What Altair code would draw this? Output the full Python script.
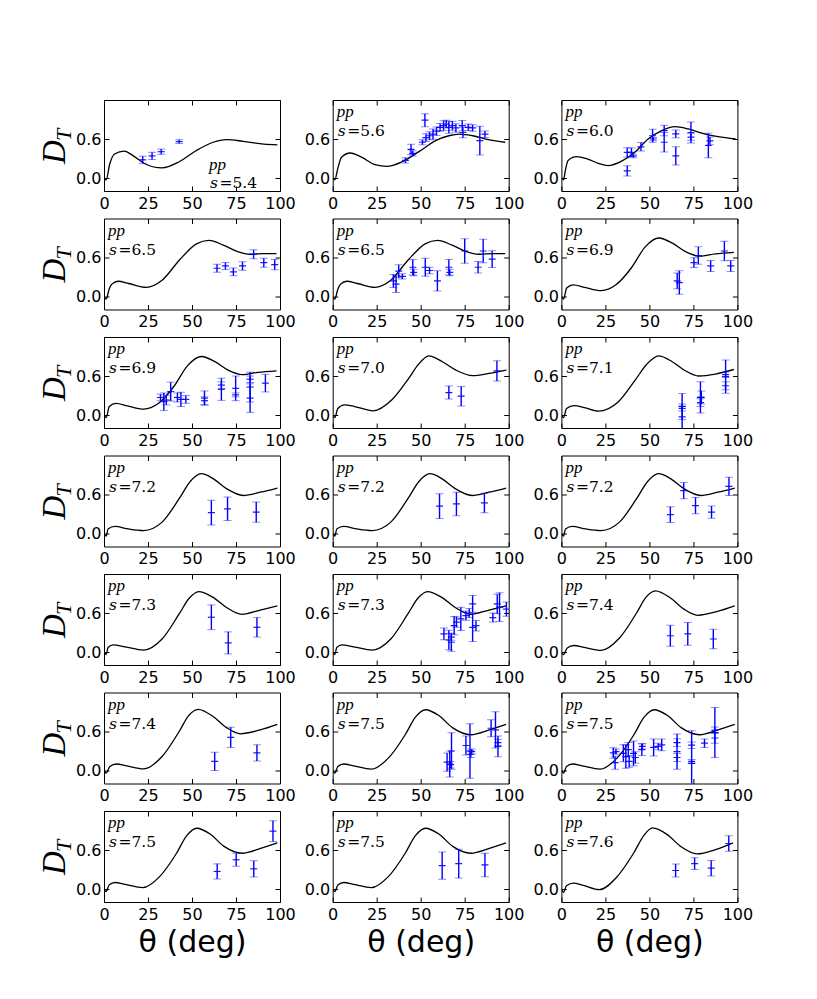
import altair as alt
import pandas as pd

# ---------------- model curves (theta in deg, D_T) ----------------
c54_theta = [0.3, 1.2, 3.3, 6, 11.5, 16.7, 23.5, 33, 42.7, 52.3, 62, 69.6, 79, 90.8, 98.5]
c54_dt = [0.0, -0.03, 0.22, 0.37, 0.415, 0.34, 0.215, 0.155, 0.25, 0.42, 0.55, 0.59, 0.565, 0.52, 0.51]

c56_theta = [0.3, 1.2, 3, 5, 10, 16.4, 24, 30.8, 39.4, 49, 58.5, 66, 72, 79.5, 89, 98]
c56_dt = [0.0, -0.03, 0.16, 0.32, 0.385, 0.32, 0.205, 0.18, 0.25, 0.405, 0.575, 0.65, 0.675, 0.65, 0.585, 0.55]

c60_theta = [0.3, 1.2, 2.2, 3.8, 8.5, 15, 21, 26.5, 34, 41.7, 49.3, 57, 64.5, 72, 79.7, 89, 99]
c60_dt = [0.0, -0.03, 0.11, 0.27, 0.33, 0.29, 0.225, 0.19, 0.255, 0.395, 0.60, 0.73, 0.79, 0.755, 0.69, 0.635, 0.60]

c65_theta = [0.3, 1.2, 3, 4.5, 8, 14, 24, 33, 43, 52.5, 59.7, 67.8, 75.5, 83.2, 90.8, 98]
c65_dt = [-0.01, -0.04, 0.12, 0.19, 0.235, 0.2, 0.14, 0.25, 0.565, 0.81, 0.865, 0.79, 0.695, 0.65, 0.66, 0.66]

c69_theta = [0.3, 1.2, 3, 6.8, 13.3, 22.6, 31, 40, 47.5, 55.5, 63, 70.5, 78.5, 87.5, 98]
c69_dt = [-0.01, -0.04, 0.13, 0.18, 0.14, 0.09, 0.18, 0.45, 0.76, 0.90, 0.82, 0.69, 0.62, 0.655, 0.68]

c70_theta = [0.3, 1.2, 2.9, 6.7, 12.5, 23, 33.5, 43.1, 48.5, 54.6, 62.3, 70, 79.5, 89, 98.7]
c70_dt = [-0.01, -0.04, 0.10, 0.155, 0.13, 0.065, 0.23, 0.56, 0.77, 0.91, 0.82, 0.69, 0.605, 0.64, 0.69]

c71_theta = [0.3, 1.2, 2.9, 7.2, 13, 21, 32.4, 42, 48.5, 55.2, 63, 70.5, 78, 87.6, 98]
c71_dt = [-0.01, -0.04, 0.10, 0.145, 0.115, 0.06, 0.205, 0.54, 0.78, 0.91, 0.82, 0.68, 0.60, 0.63, 0.70]

c72_theta = [0.3, 1.2, 2.3, 6.2, 13.8, 22.5, 33, 42.7, 49, 55.2, 62, 69.6, 79.2, 88.8, 98.5]
c72_dt = [-0.01, -0.04, 0.07, 0.11, 0.07, 0.045, 0.175, 0.535, 0.80, 0.92, 0.845, 0.69, 0.585, 0.635, 0.70]

c73_theta = [0.3, 1.2, 2.3, 5.2, 12, 22.5, 33, 42.7, 48.5, 53.8, 62, 69.6, 78.3, 88.8, 98.5]
c73_dt = [-0.01, -0.04, 0.07, 0.11, 0.08, 0.03, 0.20, 0.585, 0.83, 0.93, 0.84, 0.685, 0.58, 0.645, 0.71]

c74_theta = [0.3, 1.2, 3.3, 7.1, 13, 22.5, 33, 42.7, 48, 53.5, 62, 69.6, 77.5, 88.8, 98.5]
c74_dt = [-0.01, -0.04, 0.06, 0.10, 0.07, 0.025, 0.215, 0.60, 0.84, 0.94, 0.83, 0.66, 0.565, 0.625, 0.71]

c75_theta = [0.3, 1.2, 2.9, 6.3, 12, 22, 31.6, 41.2, 47, 52.7, 60.3, 68, 78.5, 89, 98.5]
c75_dt = [-0.01, -0.04, 0.06, 0.1, 0.07, 0.02, 0.19, 0.55, 0.82, 0.935, 0.845, 0.66, 0.55, 0.625, 0.71]

c76_theta = [0.3, 1.2, 2.9, 6.8, 12, 21.6, 31, 41, 47, 51.8, 60, 68, 77, 88, 97.5]
c76_dt = [-0.01, -0.05, 0.05, 0.09, 0.06, -0.01, 0.17, 0.55, 0.83, 0.94, 0.84, 0.65, 0.54, 0.61, 0.71]

CURVES = {
    "5.4": (c54_theta, c54_dt), "5.6": (c56_theta, c56_dt), "6.0": (c60_theta, c60_dt),
    "6.5": (c65_theta, c65_dt), "6.9": (c69_theta, c69_dt), "7.0": (c70_theta, c70_dt),
    "7.1": (c71_theta, c71_dt), "7.2": (c72_theta, c72_dt), "7.3": (c73_theta, c73_dt),
    "7.4": (c74_theta, c74_dt), "7.5": (c75_theta, c75_dt), "7.6": (c76_theta, c76_dt),
}

# ---------------- measured points (theta, D_T, error) per panel ----------------
p01_theta = [22, 27.3, 32.5, 42.7]
p01_dt = [0.28, 0.34, 0.405, 0.56]
p01_err = [0.055, 0.055, 0.04, 0.03]

p02_theta = [41.3, 44.5, 45.5, 51, 52.4, 53, 55, 57, 59, 61, 63, 64.5, 66, 68, 70, 73.6, 74, 77, 79.5, 83.6, 86.5]
p02_dt = [0.27, 0.44, 0.38, 0.55, 0.89, 0.62, 0.65, 0.675, 0.72, 0.78, 0.805, 0.83, 0.78, 0.805, 0.77, 0.805, 0.70, 0.78, 0.77, 0.575, 0.675]
p02_err = [0.04, 0.08, 0.04, 0.04, 0.10, 0.06, 0.06, 0.08, 0.065, 0.06, 0.075, 0.06, 0.09, 0.07, 0.065, 0.08, 0.08, 0.05, 0.05, 0.22, 0.05]

p03_theta = [37.4, 37.4, 39.8, 40.8, 45.2, 51.8, 52.2, 58.4, 58.4, 65, 65, 73.6, 73.6, 83.5, 84.4]
p03_dt = [0.395, 0.11, 0.395, 0.34, 0.48, 0.65, 0.60, 0.55, 0.73, 0.68, 0.34, 0.70, 0.63, 0.50, 0.57]
p03_err = [0.07, 0.08, 0.065, 0.03, 0.065, 0.10, 0.025, 0.15, 0.08, 0.06, 0.14, 0.16, 0.05, 0.19, 0.06]

p04_theta = [64.2, 69, 73.5, 78.7, 85, 90.8, 97]
p04_dt = [0.435, 0.47, 0.38, 0.47, 0.65, 0.52, 0.49]
p04_err = [0.06, 0.055, 0.06, 0.065, 0.07, 0.07, 0.08]

p05_theta = [34.5, 36, 37.5, 39.6, 45.5, 46, 52.6, 55, 59.5, 66, 66.5, 75, 82.6, 85.5, 90.6]
p05_dt = [0.24, 0.19, 0.39, 0.31, 0.45, 0.37, 0.45, 0.40, 0.24, 0.45, 0.37, 0.70, 0.45, 0.70, 0.575]
p05_err = [0.10, 0.13, 0.10, 0.04, 0.12, 0.05, 0.14, 0.05, 0.155, 0.12, 0.05, 0.19, 0.09, 0.18, 0.13]

p06_theta = [65.8, 67, 75.3, 77.8, 84.8, 92.6, 96.2]
p06_dt = [0.24, 0.215, 0.52, 0.63, 0.47, 0.70, 0.47]
p06_err = [0.12, 0.18, 0.075, 0.135, 0.085, 0.15, 0.085]

p07_theta = [32.1, 34, 35.4, 37.9, 41.7, 43.7, 46.5, 57.1, 57.1, 66.7, 66.7, 74.8, 74.8, 83, 83, 83, 91.7]
p07_dt = [0.27, 0.205, 0.23, 0.36, 0.27, 0.24, 0.24, 0.26, 0.22, 0.395, 0.46, 0.41, 0.31, 0.43, 0.26, 0.55, 0.49]
p07_err = [0.05, 0.135, 0.075, 0.145, 0.07, 0.11, 0.06, 0.11, 0.06, 0.17, 0.05, 0.19, 0.03, 0.23, 0.22, 0.05, 0.135]

p08_theta = [66, 73, 93.3]
p08_dt = [0.345, 0.29, 0.68]
p08_err = [0.1, 0.15, 0.155]

p09_theta = [68.6, 68.6, 68.6, 79, 79.5, 79, 93.3, 93.3, 93.3]
p09_dt = [0.13, -0.03, 0.1, 0.27, 0.27, 0.19, 0.59, 0.45, 0.62]
p09_err = [0.2, 0.2, 0.04, 0.24, 0.1, 0.06, 0.255, 0.06, 0.04]

p10_theta = [61, 70.2, 86.5]
p10_dt = [0.32, 0.38, 0.33]
p10_err = [0.19, 0.18, 0.155]

p11_theta = [60.7, 70.3, 86.2]
p11_dt = [0.42, 0.455, 0.47]
p11_err = [0.19, 0.18, 0.15]

p12_theta = [61.9, 69.5, 76.2, 85.3, 95.2]
p12_dt = [0.29, 0.66, 0.43, 0.33, 0.725]
p12_err = [0.12, 0.125, 0.125, 0.095, 0.14]

p13_theta = [61, 70.6, 86.9]
p13_dt = [0.535, 0.14, 0.38]
p13_err = [0.19, 0.17, 0.15]

p14_theta = [63.2, 66, 67.4, 67.4, 69, 70.3, 72.8, 75.7, 77.6, 79.5, 79.5, 81.4, 91, 93.5, 94.8, 98.7]
p14_dt = [0.28, 0.185, 0.15, 0.23, 0.405, 0.46, 0.51, 0.56, 0.60, 0.74, 0.38, 0.405, 0.53, 0.74, 0.69, 0.66]
p14_err = [0.09, 0.15, 0.14, 0.05, 0.14, 0.08, 0.18, 0.07, 0.07, 0.13, 0.22, 0.08, 0.07, 0.15, 0.22, 0.11]

p15_theta = [61.9, 71.8, 86.3]
p15_dt = [0.25, 0.28, 0.2]
p15_err = [0.16, 0.175, 0.15]

p16_theta = [62.9, 72, 86.9]
p16_dt = [0.14, 0.51, 0.27]
p16_err = [0.14, 0.155, 0.125]

p17_theta = [65, 66.5, 67.5, 67, 75.7, 78, 78.5, 79, 90, 92.5, 93.9, 93.9]
p17_dt = [0.13, 0.10, 0.30, 0.09, 0.385, 0.30, 0.25, 0.29, 0.65, 0.625, 0.37, 0.43]
p17_err = [0.14, 0.20, 0.28, 0.05, 0.145, 0.42, 0.05, 0.04, 0.13, 0.28, 0.16, 0.05]

p18_theta = [29.5, 30.5, 31, 35.2, 36.6, 38, 38.5, 41, 42, 45.7, 46, 52.4, 55, 57, 65.7, 65.7, 65.7, 74, 74, 74, 81.3, 87.2, 87.2, 87.2]
p18_dt = [0.27, 0.12, 0.29, 0.265, 0.215, 0.32, 0.14, 0.265, 0.2, 0.32, 0.37, 0.355, 0.37, 0.395, 0.29, 0.43, 0.2, 0.11, 0.39, 0.14, 0.42, 0.585, 0.5, 0.62]
p18_err = [0.08, 0.1, 0.04, 0.13, 0.18, 0.11, 0.09, 0.19, 0.09, 0.09, 0.04, 0.13, 0.05, 0.09, 0.27, 0.06, 0.06, 0.5, 0.05, 0.03, 0.065, 0.385, 0.08, 0.05]

p19_theta = [64.3, 75.1, 85.1, 96]
p19_dt = [0.27, 0.45, 0.31, 0.89]
p19_err = [0.117, 0.1, 0.125, 0.16]

p20_theta = [62.2, 71.6, 86.5]
p20_dt = [0.36, 0.39, 0.37]
p20_err = [0.21, 0.22, 0.18]

p21_theta = [64.9, 75.7, 85.1, 95.1]
p21_dt = [0.285, 0.39, 0.32, 0.70]
p21_err = [0.1, 0.09, 0.12, 0.12]

PANELS = [
    ("5.4", p01_theta, p01_dt, p01_err), ("5.6", p02_theta, p02_dt, p02_err), ("6.0", p03_theta, p03_dt, p03_err),
    ("6.5", p04_theta, p04_dt, p04_err), ("6.5", p05_theta, p05_dt, p05_err), ("6.9", p06_theta, p06_dt, p06_err),
    ("6.9", p07_theta, p07_dt, p07_err), ("7.0", p08_theta, p08_dt, p08_err), ("7.1", p09_theta, p09_dt, p09_err),
    ("7.2", p10_theta, p10_dt, p10_err), ("7.2", p11_theta, p11_dt, p11_err), ("7.2", p12_theta, p12_dt, p12_err),
    ("7.3", p13_theta, p13_dt, p13_err), ("7.3", p14_theta, p14_dt, p14_err), ("7.4", p15_theta, p15_dt, p15_err),
    ("7.4", p16_theta, p16_dt, p16_err), ("7.5", p17_theta, p17_dt, p17_err), ("7.5", p18_theta, p18_dt, p18_err),
    ("7.5", p19_theta, p19_dt, p19_err), ("7.5", p20_theta, p20_dt, p20_err), ("7.6", p21_theta, p21_dt, p21_err),
]

X_TICKS = [0, 25, 50, 75, 100]
Y_TICKS = [0.0, 0.6]
X_TITLE = "θ (deg)"

W, H = 176, 91
BLUE = "#0000ff"
SANS = "DejaVu Sans"
SERIF = "Liberation Serif"
SERIF2 = "DejaVu Serif"


def text_layer(label, x, y, size, style="normal", angle=0, font=SERIF):
    return alt.Chart(pd.DataFrame({"label": [label]})).mark_text(
        font=font, fontSize=size, fontStyle=style, align="left", baseline="alphabetic",
        color="black", angle=angle,
    ).encode(x=alt.value(x), y=alt.value(y), text="label:N")


def panel(i, s, th, dt, er):
    row, col = divmod(i, 3)
    xs = alt.Scale(domain=[0, 100], nice=False, zero=False)
    ys = alt.Scale(domain=[-0.2, 1.2], nice=False, zero=False)
    cth, cdt = CURVES[s]
    curve_df = pd.DataFrame({"theta": cth, "dt": cdt})
    pts = pd.DataFrame({"theta": th, "dt": dt, "err": er})
    pts["lo"] = pts["dt"] - pts["err"]
    pts["hi"] = pts["dt"] + pts["err"]

    common = dict(offset=-5, tickSize=5, domain=False, grid=False, tickColor="black", tickWidth=1)
    xaxis_kw = dict(values=X_TICKS, orient="bottom", labelFontSize=16, labelFont=SANS, labelColor="black",
                    labelPadding=4, labelFlush=False, labelOverlap=False, **common)
    if row == 6:
        xaxis = alt.Axis(title=X_TITLE, titleFont=SANS, titleFontSize=30, titleFontWeight="normal",
                         titleColor="black", titlePadding=5, **xaxis_kw)
    else:
        xaxis = alt.Axis(title=None, **xaxis_kw)
    yaxis = alt.Axis(values=Y_TICKS, orient="left", format=".1f", title=None, labelFontSize=16, labelFont=SANS,
                     labelColor="black", labelPadding=3, labelOverlap=False, labelFlush=False, **common)

    line = alt.Chart(curve_df).mark_line(color="black", strokeWidth=1.3, interpolate="monotone", clip=True).encode(
        x=alt.X("theta:Q", scale=xs, axis=xaxis),
        y=alt.Y("dt:Q", scale=ys, axis=yaxis),
    )
    mirror = alt.Chart(curve_df).mark_point(opacity=0).encode(
        x=alt.X("theta:Q", scale=xs, axis=alt.Axis(values=X_TICKS, orient="top", labels=False, title=None, **common)),
        y=alt.Y("dt:Q", scale=ys, axis=alt.Axis(values=Y_TICKS, orient="right", labels=False, title=None, **common)),
    )
    base = alt.Chart(pts).encode(x=alt.X("theta:Q", scale=xs, axis=None))
    bars = base.mark_rule(color=BLUE, strokeWidth=1.4, clip=True).encode(
        y=alt.Y("lo:Q", scale=ys, axis=None), y2="hi:Q")
    cap_lo = base.mark_tick(color=BLUE, orient="horizontal", size=8, thickness=1, opacity=0.45, clip=True).encode(
        y=alt.Y("lo:Q", scale=ys, axis=None))
    cap_hi = base.mark_tick(color=BLUE, orient="horizontal", size=8, thickness=1, opacity=0.45, clip=True).encode(
        y=alt.Y("hi:Q", scale=ys, axis=None))
    centre = base.mark_tick(color=BLUE, orient="horizontal", size=7, thickness=1.2, opacity=0.9, clip=True).encode(
        y=alt.Y("dt:Q", scale=ys, axis=None))

    if i == 0:
        ax, ay1, ay2 = 105, 70, 88
    else:
        ax, ay1, ay2 = 4, 17, 36
    layers = [line, mirror, bars, cap_lo, cap_hi, centre,
              text_layer("pp", ax, ay1, 17, "italic"),
              text_layer("s", ax + 1, ay2, 15.5, "italic", font=SERIF2),
              text_layer("=" + s, ax + 10.5, ay2, 15.5, font=SERIF2)]
    if col == 0:
        layers.append(text_layer("D", -39, 64, 33, "italic", 270))
        layers.append(text_layer("T", -33, 41, 22, "italic", 270))
    return alt.layer(*layers).resolve_axis(x="independent", y="independent").properties(width=W, height=H)


panels = [panel(i, *p) for i, p in enumerate(PANELS)]

chart = alt.concat(
    *panels, columns=3, spacing={"row": 27.5, "column": 52.7}, bounds="flush"
).properties(
    padding={"left": 30, "top": 91, "right": 5, "bottom": 5},
    background="white",
).configure_view(stroke="black", strokeWidth=1)

chart.save("out.html", embed_options={"renderer": "svg", "actions": False})
